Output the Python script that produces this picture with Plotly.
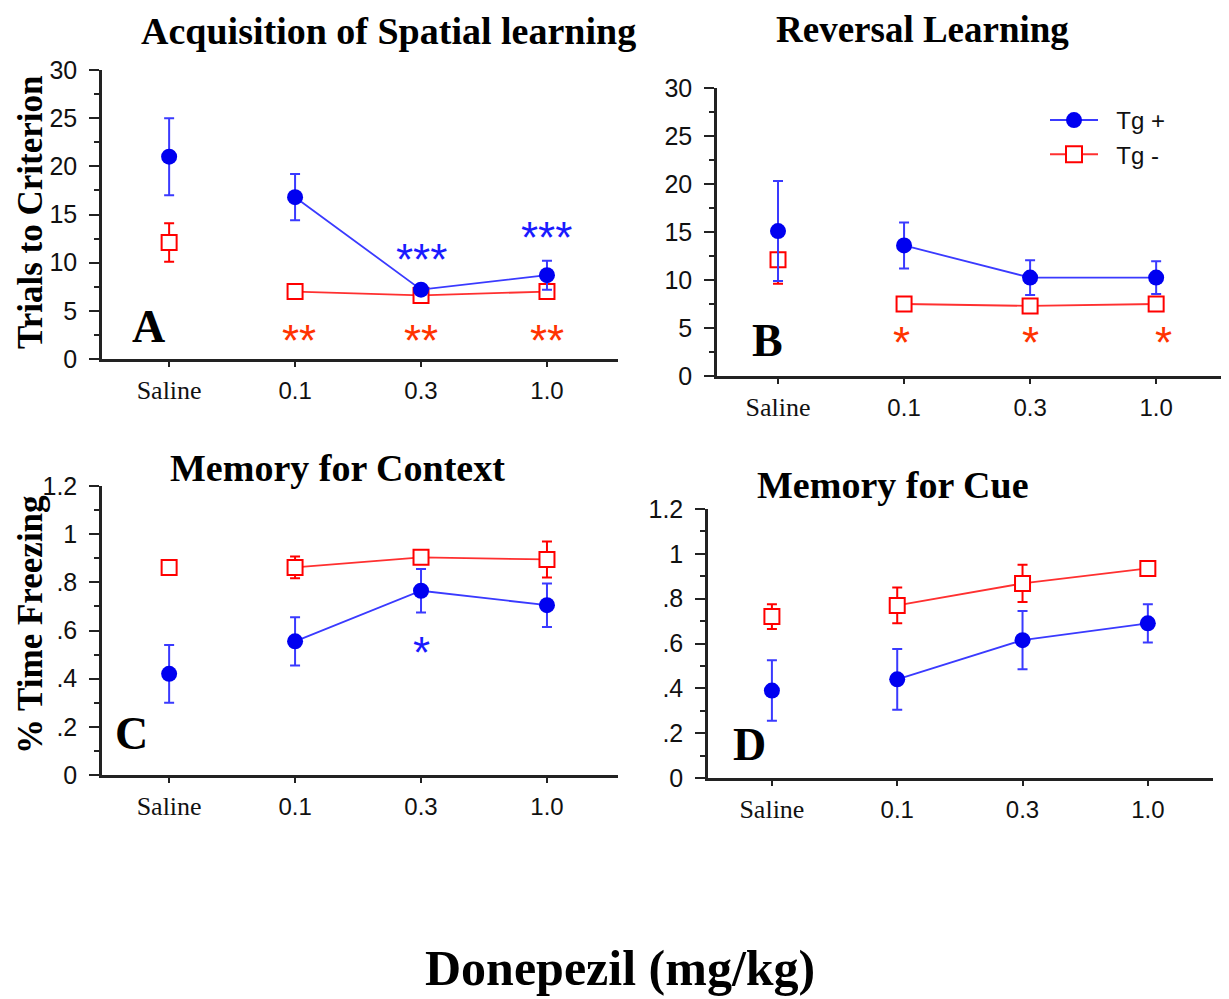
import plotly.graph_objects as go

# ---------------- data ----------------
categories = ["Saline", "0.1", "0.3", "1.0"]
cat_pos = [0, 1, 2, 3]

A_tg_pos = [21.0, 16.8, 7.2, 8.7]
A_tg_pos_err = [4.0, 2.4, 0.3, 1.5]
A_tg_neg = [12.1, 7.0, 6.6, 7.0]
A_tg_neg_err = [2.0, 0.3, 0.3, 0.3]

B_tg_pos = [15.1, 13.6, 10.25, 10.25]
B_tg_pos_err = [5.2, 2.4, 1.8, 1.7]
B_tg_neg = [12.1, 7.5, 7.3, 7.5]
B_tg_neg_err = [2.5, 0.3, 0.3, 0.3]

C_tg_pos = [0.42, 0.555, 0.765, 0.705]
C_tg_pos_err = [0.12, 0.10, 0.09, 0.09]
C_tg_neg = [0.862, 0.862, 0.904, 0.895]
C_tg_neg_err = [0.02, 0.045, 0.02, 0.075]

D_tg_pos = [0.39, 0.44, 0.615, 0.69]
D_tg_pos_err = [0.135, 0.135, 0.13, 0.085]
D_tg_neg = [0.72, 0.77, 0.868, 0.935]
D_tg_neg_err = [0.055, 0.08, 0.083, 0.01]

trials_ticks = [0, 5, 10, 15, 20, 25, 30]
trials_ticktext = ["0", "5", "10", "15", "20", "25", "30"]
freeze_ticks = [0, 0.2, 0.4, 0.6, 0.8, 1.0, 1.2]
freeze_ticktext = ["0", ".2", ".4", ".6", ".8", "1", "1.2"]

# significance marks: (panel, x category index, y, text, group)
sig_marks = [
    ("A", 2, 11.4, "***", "pos"), ("A", 3, 13.6, "***", "pos"),
    ("A", 1.03, 3.0, "**", "neg"), ("A", 2, 3.0, "**", "neg"), ("A", 3, 3.0, "**", "neg"),
    ("B", 0.98, 4.55, "*", "neg"), ("B", 2, 4.55, "*", "neg"), ("B", 3.06, 4.55, "*", "neg"),
    ("C", 2, 0.55, "*", "pos"),
]

# ---------------- style ----------------
BLUE = "#0000f0"
BLUE_LINE = "#3a3aff"
RED = "#ff0000"
RED_LINE = "#ff3030"
STAR_BLUE = "#1a1aff"
STAR_RED = "#ff3300"
AXC = "#222222"
SERIF = "Liberation Serif, Times New Roman, serif"
SANS = "Liberation Sans, Arial, sans-serif"
W, H = 1229, 999
OFF = 8  # page body margin in the browser


def fx(px):
    return (px - OFF) / W


def fy(py):
    return 1 - (py - OFF) / H


panels = {
    "A": dict(xa="x", ya="y", px=(102, 618), py=(359, 70), xr=[-0.533, 3.564], yr=[0, 30],
              pos=A_tg_pos, pos_err=A_tg_pos_err, neg=A_tg_neg, neg_err=A_tg_neg_err,
              ticks=trials_ticks, ticktext=trials_ticktext, minor=2.5,
              letter=(-0.16, 3.4)),
    "B": dict(xa="x2", ya="y2", px=(717, 1228), py=(376, 88), xr=[-0.484, 3.57], yr=[0, 30],
              pos=B_tg_pos, pos_err=B_tg_pos_err, neg=B_tg_neg, neg_err=B_tg_neg_err,
              ticks=trials_ticks, ticktext=trials_ticktext, minor=2.5,
              letter=(-0.08, 3.75)),
    "C": dict(xa="x3", ya="y3", px=(102, 618), py=(775, 486), xr=[-0.533, 3.564], yr=[0, 1.2],
              pos=C_tg_pos, pos_err=C_tg_pos_err, neg=C_tg_neg, neg_err=C_tg_neg_err,
              ticks=freeze_ticks, ticktext=freeze_ticktext, minor=0.1,
              letter=(-0.30, 0.173)),
    "D": dict(xa="x4", ya="y4", px=(708, 1213), py=(778, 509), xr=[-0.51, 3.52], yr=[0, 1.2],
              pos=D_tg_pos, pos_err=D_tg_pos_err, neg=D_tg_neg, neg_err=D_tg_neg_err,
              ticks=freeze_ticks, ticktext=freeze_ticktext, minor=0.1,
              letter=(-0.18, 0.149)),
}

fig = go.Figure()


def err(vals, color):
    return dict(type="data", array=vals, visible=True, color=color, thickness=2, width=5)


for name, p in panels.items():
    # Tg- (drawn first)
    fig.add_trace(go.Scatter(
        x=cat_pos[:1], y=p["neg"][:1], error_y=err(p["neg_err"][:1], RED),
        mode="markers", xaxis=p["xa"], yaxis=p["ya"], showlegend=False,
        marker=dict(symbol="square", size=15, color="white", line=dict(color=RED, width=2))))
    fig.add_trace(go.Scatter(
        x=cat_pos[1:], y=p["neg"][1:], error_y=err(p["neg_err"][1:], RED),
        mode="lines+markers", xaxis=p["xa"], yaxis=p["ya"], name="Tg -",
        showlegend=False,
        line=dict(color=RED_LINE, width=1.8),
        marker=dict(symbol="square", size=15, color="white", line=dict(color=RED, width=2))))
    # Tg+
    fig.add_trace(go.Scatter(
        x=cat_pos[:1], y=p["pos"][:1], error_y=err(p["pos_err"][:1], BLUE_LINE),
        mode="markers", xaxis=p["xa"], yaxis=p["ya"], showlegend=False,
        marker=dict(symbol="circle", size=16, color=BLUE)))
    fig.add_trace(go.Scatter(
        x=cat_pos[1:], y=p["pos"][1:], error_y=err(p["pos_err"][1:], BLUE_LINE),
        mode="lines+markers", xaxis=p["xa"], yaxis=p["ya"], name="Tg +",
        showlegend=False,
        line=dict(color=BLUE_LINE, width=1.8),
        marker=dict(symbol="circle", size=16, color=BLUE)))

# legend entries (shown only in legend)
fig.add_trace(go.Scatter(x=[None], y=[None], mode="lines+markers", name="\u00a0\u00a0Tg +",
                         xaxis="x2", yaxis="y2", legendrank=1, legendgroup="g1",
                         line=dict(color=BLUE_LINE, width=2),
                         marker=dict(symbol="circle", size=18, color=BLUE)))
fig.add_trace(go.Scatter(x=[None], y=[None], mode="lines+markers", name="\u00a0\u00a0Tg -",
                         xaxis="x2", yaxis="y2", legendrank=2, legendgroup="g2",
                         line=dict(color=RED_LINE, width=2),
                         marker=dict(symbol="square", size=16, color="white",
                                     line=dict(color=RED, width=2))))

layout = {}
cat_text = ['<span style="font-family:Liberation Serif;font-size:26px">%s</span>' % c
            if c == "Saline" else c for c in categories]
for name, p in panels.items():
    xkey = "xaxis" + p["xa"][1:]
    ykey = "yaxis" + p["ya"][1:]
    layout[xkey] = dict(
        domain=[fx(p["px"][0]), fx(p["px"][1])], range=p["xr"], anchor=p["ya"],
        tickmode="array", tickvals=cat_pos, ticktext=cat_text,
        ticks="outside", ticklen=5, tickwidth=1.5, tickcolor=AXC,
        showline=True, linewidth=2.5, linecolor=AXC, showgrid=False, zeroline=False,
        tickfont=dict(family=SANS, size=24, color="#111"), ticklabelstandoff=3,
        automargin=False, fixedrange=True)
    layout[ykey] = dict(
        domain=[fy(p["py"][0]), fy(p["py"][1])], range=p["yr"], anchor=p["xa"],
        tickmode="array", tickvals=p["ticks"], ticktext=p["ticktext"],
        ticks="outside", ticklen=10, tickwidth=1.5, tickcolor=AXC,
        minor=dict(ticks="outside", ticklen=5, dtick=p["minor"], tickwidth=1.5,
                   tickcolor=AXC, showgrid=False),
        showline=True, linewidth=2.5, linecolor=AXC, showgrid=False, zeroline=False,
        tickfont=dict(family=SANS, size=25, color="#111"), ticklabelstandoff=7,
        automargin=False, fixedrange=True)

annotations = []
# panel letters
for name, p in panels.items():
    annotations.append(dict(x=p["letter"][0], y=p["letter"][1], xref=p["xa"], yref=p["ya"],
                            xanchor="center", yanchor="middle",
                            text="<b>%s</b>" % name, showarrow=False,
                            font=dict(family=SERIF, size=46, color="black")))
# significance stars
for pn, xv, yv, txt, grp in sig_marks:
    p = panels[pn]
    annotations.append(dict(x=xv, y=yv, xref=p["xa"], yref=p["ya"], text=txt, showarrow=False,
                            xanchor="center", yanchor="middle", yshift=-10,
                            font=dict(family=SANS, size=44,
                                      color=STAR_BLUE if grp == "pos" else STAR_RED)))
# titles: (text, x px, y px, font size)
titles = [
    ("Acquisition of Spatial learning", 388, 31, 38),
    ("Reversal Learning", 922, 30, 37),
    ("Memory for Context", 337, 468, 38),
    ("Memory for Cue", 893, 485, 38),
]
for t, px, py, fs in titles:
    annotations.append(dict(x=fx(px), y=fy(py), xref="paper", yref="paper",
                            xanchor="center", yanchor="middle",
                            text="<b>%s</b>" % t, showarrow=False,
                            font=dict(family=SERIF, size=fs, color="black")))
# y-axis titles
for t, py in [("Trials to Criterion", 213), ("% Time Freezing", 625)]:
    annotations.append(dict(x=fx(30), y=fy(py), xref="paper", yref="paper",
                            xanchor="center", yanchor="middle",
                            text="<b>%s</b>" % t, showarrow=False, textangle=-90,
                            font=dict(family=SERIF, size=35, color="black")))
# common x title
annotations.append(dict(x=fx(620), y=fy(968), xref="paper", yref="paper",
                        xanchor="center", yanchor="middle",
                        text="<b>Donepezil (mg/kg)</b>", showarrow=False,
                        font=dict(family=SERIF, size=50, color="black")))

fig.update_layout(
    width=W, height=H, margin=dict(l=0, r=0, t=0, b=0, autoexpand=False),
    paper_bgcolor="white", plot_bgcolor="white",
    showlegend=True,
    legend=dict(x=fx(1045), y=fy(98), xanchor="left", yanchor="top",
                bgcolor="rgba(0,0,0,0)", font=dict(family=SANS, size=24, color="#111"),
                traceorder="grouped", tracegroupgap=0, itemwidth=48),
    annotations=annotations,
    **layout,
)

fig.write_html("out.html")
